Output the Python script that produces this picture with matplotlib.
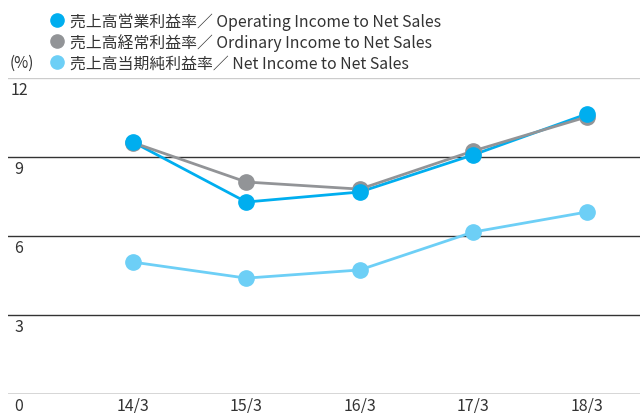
import matplotlib
matplotlib.use("Agg")
import matplotlib.pyplot as plt
import matplotlib.transforms as mtransforms

plt.rcParams['font.family'] = ['Noto Sans CJK JP', 'DejaVu Sans']

years = ['14/3', '15/3', '16/3', '17/3', '18/3']
operating = [9.57, 7.29, 7.67, 9.08, 10.63]
ordinary = [9.55, 8.05, 7.78, 9.23, 10.52]
net_income = [5.01, 4.40, 4.71, 6.15, 6.91]
y_ticks = [0, 3, 6, 9, 12]

labels = [
    '売上高営業利益率／ Operating Income to Net Sales',
    '売上高経常利益率／ Ordinary Income to Net Sales',
    '売上高当期純利益率／ Net Income to Net Sales',
]
colors = ['#00AEEF', '#929497', '#6DCFF6']

fig = plt.figure(figsize=(6.4, 4.14), dpi=100)
ax = fig.add_axes([0.0125, 0.0459, 0.9875, 0.7633])

x = list(range(len(years)))

# horizontal rules
for v in y_ticks:
    c = '#cccccc' if v == 12 else '#333333'
    ax.axhline(v, color=c, lw=1.0, zorder=1)

h_net, = ax.plot(x, net_income, color=colors[2], lw=2, marker='o', ms=11, zorder=3)
h_ord, = ax.plot(x, ordinary, color=colors[1], lw=2, marker='o', ms=11, zorder=4)
ax.plot(x, operating, color=colors[0], lw=2, zorder=3.5)
h_op, = ax.plot(x, operating, color=colors[0], lw=0, marker='o', ms=11, zorder=5)

ax.set_xlim(-1.1, 4.47)
ax.set_ylim(0, 12)

for s in ax.spines.values():
    s.set_visible(False)

ax.set_yticks([])
ax.set_xticks(x)
ax.set_xticklabels(years, fontsize=11.5, color='#333333')
ax.tick_params(axis='x', length=0, pad=2)

trans = mtransforms.blended_transform_factory(fig.transFigure, ax.transData)
for v in y_ticks:
    ax.annotate(str(v), xy=(19 / 640, v), xycoords=trans, xytext=(0, -2),
                textcoords='offset points', ha='center', va='top',
                fontsize=11.5, color='#333333', annotation_clip=False)

fig.text(10 / 640, 1 - 63 / 414, '(%)', fontsize=11, color='#333333',
         va='center', ha='left')

leg = fig.legend([h_op, h_ord, h_net], labels, loc='upper left',
                 bbox_to_anchor=(51 / 640, 1 - 13 / 414), frameon=False,
                 fontsize=11.4, handlelength=0.8, handletextpad=0.4,
                 labelspacing=0.22, borderaxespad=0, borderpad=0,
                 labelcolor='#333333')
for hd in leg.legend_handles:
    hd.set_linestyle('none')
    hd.set_markersize(9.5)

fig.savefig('out.png', dpi=100)
